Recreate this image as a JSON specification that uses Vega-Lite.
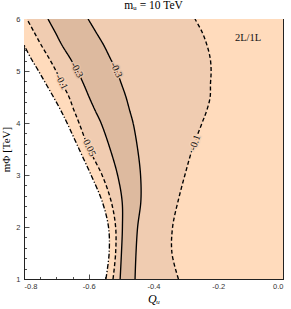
{
  "$schema": "https://vega.github.io/schema/vega-lite/v6.json",
  "width": 259,
  "height": 260,
  "autosize": "none",
  "padding": {"left": 24, "top": 19, "right": 8, "bottom": 30},
  "title": {"text": "mᵤ = 10 TeV", "font": "Liberation Serif", "fontSize": 11.5, "fontWeight": "normal", "offset": 4, "color": "black"},
  "datasets": {
    "curves": [
      {"y": 6, "c1": -0.8, "c2": -0.791, "c3": -0.726, "c4": -0.602, "c5": -0.272},
      {"y": 5.75, "c1": -0.8, "c2": -0.769, "c3": -0.704, "c4": -0.578, "c5": -0.25},
      {"y": 5.5, "c1": -0.8, "c2": -0.747, "c3": -0.683, "c4": -0.554, "c5": -0.235},
      {"y": 5.25, "c1": -0.779, "c2": -0.723, "c3": -0.658, "c4": -0.534, "c5": -0.225},
      {"y": 5, "c1": -0.755, "c2": -0.701, "c3": -0.635, "c4": -0.514, "c5": -0.222},
      {"y": 4.75, "c1": -0.732, "c2": -0.681, "c3": -0.616, "c4": -0.499, "c5": -0.224},
      {"y": 4.5, "c1": -0.709, "c2": -0.661, "c3": -0.599, "c4": -0.485, "c5": -0.225},
      {"y": 4.25, "c1": -0.687, "c2": -0.646, "c3": -0.581, "c4": -0.474, "c5": -0.235},
      {"y": 4, "c1": -0.667, "c2": -0.63, "c3": -0.562, "c4": -0.463, "c5": -0.25},
      {"y": 3.5, "c1": -0.63, "c2": -0.599, "c3": -0.534, "c4": -0.449, "c5": -0.28},
      {"y": 3, "c1": -0.593, "c2": -0.559, "c3": -0.511, "c4": -0.44, "c5": -0.303},
      {"y": 2.5, "c1": -0.559, "c2": -0.531, "c3": -0.497, "c4": -0.439, "c5": -0.324},
      {"y": 2, "c1": -0.539, "c2": -0.517, "c3": -0.496, "c4": -0.449, "c5": -0.341},
      {"y": 1.5, "c1": -0.537, "c2": -0.517, "c3": -0.499, "c4": -0.454, "c5": -0.343},
      {"y": 1, "c1": -0.547, "c2": -0.525, "c3": -0.503, "c4": -0.457, "c5": -0.323}
    ]
  },
  "data": {"name": "curves"},
  "layer": [
    {
      "mark": {"type": "area", "orient": "horizontal", "interpolate": "catmull-rom", "color": "#FFDBBC", "clip": true},
      "encoding": {
        "y": {"field": "y", "type": "quantitative", "scale": {"domain": [1, 6], "nice": false, "zero": false},
          "axis": {"orient": "left", "values": [1,1.2,1.4,1.6,1.8,2,2.2,2.4,2.6,2.8,3,3.2,3.4,3.6,3.8,4,4.2,4.4,4.6,4.8,5,5.2,5.4,5.6,5.8,6],
            "tickSize": {"condition": {"test": "abs(datum.value - round(datum.value)) < 0.000001", "value": -5}, "value": -2.5},
            "labelExpr": "abs(datum.value - round(datum.value)) < 0.000001 ? format(datum.value, 'd') : ''",
            "labelPadding": 9, "domain": true, "title": "mΦ [TeV]", "titleFont": "Liberation Serif", "titleFontSize": 11, "titleFontWeight": "normal", "titleColor": "black", "titlePadding": 4}},
        "x": {"field": "c1", "type": "quantitative", "scale": {"domain": [-0.8, 0], "nice": false, "zero": false},
          "axis": {"orient": "bottom", "values": [-0.8,-0.75,-0.7,-0.65,-0.6,-0.55,-0.5,-0.45,-0.4,-0.35,-0.3,-0.25,-0.2,-0.15,-0.1,-0.05,0],
            "tickSize": {"condition": {"test": "abs(datum.value*5 - round(datum.value*5)) < 0.000001", "value": -5}, "value": -2.5},
            "labelExpr": "abs(datum.value*5 - round(datum.value*5)) < 0.000001 ? replace(format(datum.value, '.1f'), '−', '-') : ''",
            "labelPadding": 8, "domain": true, "title": "Qᵤ", "titleFont": "Liberation Serif", "titleFontStyle": "italic", "titleFontSize": 12, "titleFontWeight": "normal", "titleColor": "black", "titlePadding": 4}},
        "x2": {"datum": 0}
      }
    },
    {
      "mark": {"type": "area", "orient": "horizontal", "interpolate": "catmull-rom", "color": "#F0CCB1", "clip": true},
      "encoding": {
        "y": {"field": "y", "type": "quantitative", "axis": null},
        "x": {"field": "c2", "type": "quantitative", "axis": null},
        "x2": {"field": "c5"}
      }
    },
    {
      "mark": {"type": "area", "orient": "horizontal", "interpolate": "catmull-rom", "color": "#DDBA9F", "clip": true},
      "encoding": {
        "y": {"field": "y", "type": "quantitative", "axis": null},
        "x": {"field": "c3", "type": "quantitative", "axis": null},
        "x2": {"field": "c4"}
      }
    },
    {
      "transform": [
        {"fold": ["c1", "c2", "c3", "c4", "c5"], "as": ["curve", "xv"]},
        {"filter": "datum.curve != 'c1' || datum.y <= 5.5"}
      ],
      "mark": {"type": "line", "interpolate": "catmull-rom", "color": "#000", "strokeWidth": 1.35, "clip": true},
      "encoding": {
        "y": {"field": "y", "type": "quantitative", "axis": null},
        "x": {"field": "xv", "type": "quantitative", "axis": null},
        "order": {"field": "y", "type": "quantitative"},
        "detail": {"field": "curve"},
        "strokeDash": {"field": "curve", "type": "nominal", "legend": null,
          "scale": {"domain": ["c1", "c2", "c3", "c4", "c5"], "range": [[5, 2, 1.2, 2], [4, 2.5], [1, 0], [1, 0], [4, 2.5]]}}
      }
    },
    {
      "data": {"values": [{"label": "-0.1", "x": -0.684, "y": 4.79}]},
      "encoding": {"x": {"field": "x", "type": "quantitative", "axis": null}, "y": {"field": "y", "type": "quantitative", "axis": null}, "text": {"field": "label"}},
      "layer": [
        {"mark": {"type": "text", "angle": 63, "font": "Liberation Serif", "fontSize": 10, "stroke": "#F7D3B6", "strokeWidth": 3, "fill": "#F7D3B6"}},
        {"mark": {"type": "text", "angle": 63, "font": "Liberation Serif", "fontSize": 10, "color": "#111"}}
      ]
    },
    {
      "data": {"values": [{"label": "0.05", "x": -0.598, "y": 3.52}]},
      "encoding": {"x": {"field": "x", "type": "quantitative", "axis": null}, "y": {"field": "y", "type": "quantitative", "axis": null}, "text": {"field": "label"}},
      "layer": [
        {"mark": {"type": "text", "angle": 65, "font": "Liberation Serif", "fontSize": 10, "stroke": "#F7D3B6", "strokeWidth": 3, "fill": "#F7D3B6"}},
        {"mark": {"type": "text", "angle": 65, "font": "Liberation Serif", "fontSize": 10, "color": "#111"}}
      ]
    },
    {
      "data": {"values": [{"label": "-0.3", "x": -0.637, "y": 5.02}]},
      "encoding": {"x": {"field": "x", "type": "quantitative", "axis": null}, "y": {"field": "y", "type": "quantitative", "axis": null}, "text": {"field": "label"}},
      "layer": [
        {"mark": {"type": "text", "angle": 62, "font": "Liberation Serif", "fontSize": 10, "stroke": "#E6C2A8", "strokeWidth": 3, "fill": "#E6C2A8"}},
        {"mark": {"type": "text", "angle": 62, "font": "Liberation Serif", "fontSize": 10, "color": "#111"}}
      ]
    },
    {
      "data": {"values": [{"label": "-0.3", "x": -0.515, "y": 5.02}]},
      "encoding": {"x": {"field": "x", "type": "quantitative", "axis": null}, "y": {"field": "y", "type": "quantitative", "axis": null}, "text": {"field": "label"}},
      "layer": [
        {"mark": {"type": "text", "angle": 66, "font": "Liberation Serif", "fontSize": 10, "stroke": "#E6C2A8", "strokeWidth": 3, "fill": "#E6C2A8"}},
        {"mark": {"type": "text", "angle": 66, "font": "Liberation Serif", "fontSize": 10, "color": "#111"}}
      ]
    },
    {
      "data": {"values": [{"label": "-0.1", "x": -0.272, "y": 3.62}]},
      "encoding": {"x": {"field": "x", "type": "quantitative", "axis": null}, "y": {"field": "y", "type": "quantitative", "axis": null}, "text": {"field": "label"}},
      "layer": [
        {"mark": {"type": "text", "angle": -70, "font": "Liberation Serif", "fontSize": 10, "stroke": "#F7D3B6", "strokeWidth": 3, "fill": "#F7D3B6"}},
        {"mark": {"type": "text", "angle": -70, "font": "Liberation Serif", "fontSize": 10, "color": "#111"}}
      ]
    },
    {
      "data": {"values": [{"label": "2L/1L", "x": -0.108, "y": 5.63}]},
      "mark": {"type": "text", "font": "Liberation Serif", "fontSize": 10.5, "color": "#111"},
      "encoding": {
        "x": {"field": "x", "type": "quantitative",
          "axis": {"orient": "top", "values": [-0.8,-0.75,-0.7,-0.65,-0.6,-0.55,-0.5,-0.45,-0.4,-0.35,-0.3,-0.25,-0.2,-0.15,-0.1,-0.05,0],
            "tickSize": {"condition": {"test": "abs(datum.value*5 - round(datum.value*5)) < 0.000001", "value": -5}, "value": -2.5},
            "labels": false, "title": null, "domain": true}},
        "y": {"field": "y", "type": "quantitative",
          "axis": {"orient": "right", "values": [1,1.2,1.4,1.6,1.8,2,2.2,2.4,2.6,2.8,3,3.2,3.4,3.6,3.8,4,4.2,4.4,4.6,4.8,5,5.2,5.4,5.6,5.8,6],
            "tickSize": {"condition": {"test": "abs(datum.value - round(datum.value)) < 0.000001", "value": -5}, "value": -2.5},
            "labels": false, "title": null, "domain": true}},
        "text": {"field": "label"}
      }
    }
  ],
  "resolve": {"axis": {"x": "independent", "y": "independent"}},
  "config": {
    "view": {"stroke": "black", "strokeWidth": 1},
    "axis": {"domainColor": "#222", "domainWidth": 1, "tickColor": "#222", "tickWidth": 0.8, "labelFont": "Liberation Sans", "labelFontSize": 7.5, "labelColor": "#333", "grid": false}
  }
}
